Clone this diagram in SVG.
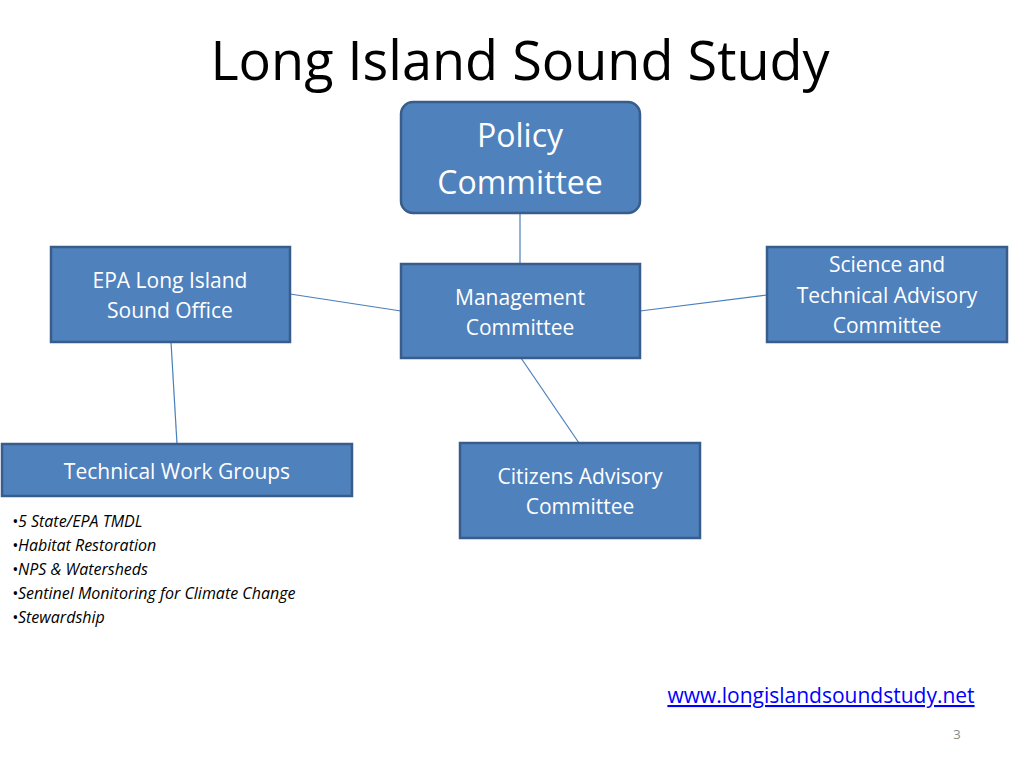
<svg xmlns="http://www.w3.org/2000/svg" width="1024" height="768" viewBox="0 0 1024 768">
<style>
.box{fill:#4f81bd;stroke:#385d8a;stroke-width:2.5}
.t{font-family:"Open Sans","Liberation Sans",sans-serif;fill:#fff;text-anchor:middle;font-size:21px}
.b{font-family:"Open Sans","Liberation Sans",sans-serif;font-style:italic;font-size:16px;fill:#000}
.c{stroke:#4a7ebb;stroke-width:1.2;fill:none}
</style>
<rect width="1024" height="768" fill="#fff"/>
<text x="520" y="80" font-family="Open Sans, Liberation Sans, sans-serif" font-size="54" text-anchor="middle" fill="#000">Long Island Sound Study</text>
<g id="connectors">
<line class="c" x1="520" y1="213" x2="520" y2="264"/>
<line class="c" x1="290" y1="294" x2="401" y2="311"/>
<line class="c" x1="640" y1="311" x2="767" y2="295"/>
<line class="c" x1="171" y1="342" x2="177" y2="444"/>
<line class="c" x1="521" y1="358" x2="579" y2="443"/>
</g>
<g id="policy"><rect class="box" x="401" y="102" width="239" height="111" rx="12"/>
<text class="t" x="520" y="147" style="font-size:32px">Policy</text><text class="t" x="520" y="194" style="font-size:32px">Committee</text></g>
<g id="epa"><rect class="box" x="51" y="247" width="239" height="95"/>
<text class="t" x="170" y="288">EPA Long Island</text><text class="t" x="170" y="318">Sound Office</text></g>
<g id="management"><rect class="box" x="401" y="264" width="239" height="94"/>
<text class="t" x="520" y="305">Management</text><text class="t" x="520" y="335">Committee</text></g>
<g id="science"><rect class="box" x="767" y="247" width="240" height="95"/>
<text class="t" x="887" y="272">Science and</text><text class="t" x="887" y="303">Technical Advisory</text><text class="t" x="887" y="333">Committee</text></g>
<g id="twg"><rect class="box" x="2" y="444" width="350" height="52"/>
<text class="t" x="177" y="479">Technical Work Groups</text></g>
<g id="citizens"><rect class="box" x="460" y="443" width="240" height="95"/>
<text class="t" x="580" y="484">Citizens Advisory</text><text class="t" x="580" y="514">Committee</text></g>
<g class="b">
<text x="12" y="527">•5 State/EPA TMDL</text>
<text x="12" y="551">•Habitat Restoration</text>
<text x="12" y="575">•NPS &amp; Watersheds</text>
<text x="12" y="599">•Sentinel Monitoring for Climate Change</text>
<text x="12" y="623">•Stewardship</text>
</g>
<text x="821" y="703" font-family="Open Sans, Liberation Sans, sans-serif" font-size="21" fill="#0000ff" text-anchor="middle" text-decoration="underline">www.longislandsoundstudy.net</text>
<text x="957" y="739" font-family="Open Sans, Liberation Sans, sans-serif" font-size="13" fill="#888" text-anchor="middle">3</text>
</svg>
